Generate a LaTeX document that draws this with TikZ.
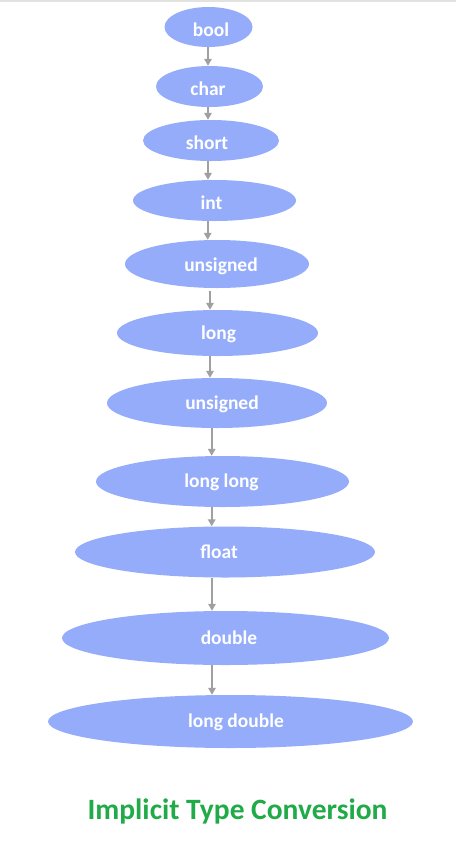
\documentclass[tikz,border=0pt]{standalone}
\usepackage{fontspec}
\setmainfont{Carlito}
\usetikzlibrary{shapes.geometric,arrows.meta}
\definecolor{ellfill}{RGB}{148,172,250}
\definecolor{arrgray}{RGB}{160,160,160}
\definecolor{titlegreen}{RGB}{32,170,72}
\definecolor{topline}{RGB}{226,226,226}
\newcommand\toff[2]{\hspace*{#1}#2}
\tikzset{
  typebox/.style n args={2}{ellipse, fill=ellfill, draw=none, inner sep=0pt,
    minimum width=#1pt, minimum height=#2pt,
    text=white, font=\fontsize{19.5}{22}\selectfont\bfseries,
    text height=18pt, text depth=0pt},
  lowtext/.style={text height=12pt},
  arr/.style={draw=arrgray, line width=1.6pt, -{Triangle[length=7pt,width=7.5pt]}},
}
\begin{document}
\begin{tikzpicture}[x=1pt,y=-1pt]
\useasboundingbox (0,0) rectangle (456,847);
\draw[topline, line width=1.5pt] (0,0.75) -- (456,0.75);
\node[typebox={88}{40}] (bool) at (208.5,27) {\toff{5pt}{bool}};
\node[typebox={107}{41}] (char) at (209.5,86.5) {\toff{-3pt}{char}};
\node[typebox={136}{41}] (short) at (211,140.5) {\toff{-8pt}{short}};
\node[typebox={163}{41}] (int) at (214.5,200.5) {\toff{-6pt}{int}};
\node[typebox={184}{48}, text height=14pt] (uns) at (217,264) {\toff{8pt}{unsigned}};
\node[typebox={201}{46}, lowtext] (long) at (217.5,333) {\toff{2pt}{long}};
\node[typebox={220}{50}, lowtext] (unsl) at (217,403) {\toff{10pt}{unsigned}};
\node[typebox={253}{51}, lowtext] (ll) at (222.5,481.5) {\toff{-2pt}{long long}};
\node[typebox={300}{51}, lowtext] (float) at (225,552) {\toff{-12pt}{float}};
\node[typebox={327}{54}, lowtext] (double) at (225.5,638) {\toff{7pt}{double}};
\node[typebox={365}{53}, lowtext] (ld) at (230.5,721.5) {\toff{11pt}{long double}};
\node[text=titlegreen, font=\fontsize{29.5}{34}\selectfont\bfseries, inner sep=0pt, anchor=base] (title) at (237.5,819) {Implicit Type Conversion};
\draw[arr] ([xshift=-0.5pt]bool.south) -- ([xshift=-0.5pt]bool.south |- char.north);
\draw[arr] ([xshift=-1.5pt]char.south) -- ([xshift=-1.5pt]char.south |- short.north);
\draw[arr] ([xshift=-3pt]short.south) -- ([xshift=-3pt]short.south |- int.north);
\draw[arr] ([xshift=-6.8pt]int.south) -- ([xshift=-6.8pt]int.south |- uns.north);
\draw[arr] ([xshift=-7pt,yshift=-3pt]uns.south) -- ([xshift=-7pt]uns.south |- long.north);
\draw[arr] ([xshift=-7.5pt]long.south) -- ([xshift=-7.5pt]long.south |- unsl.north);
\draw[arr] ([xshift=-5.3pt]unsl.south) -- ([xshift=-5.3pt]unsl.south |- ll.north);
\draw[arr] ([xshift=-10.8pt]ll.south) -- ([xshift=-10.8pt]ll.south |- float.north);
\draw[arr] ([xshift=-13pt]float.south) -- ([xshift=-13pt]float.south |- double.north);
\draw[arr] ([xshift=-13.5pt]double.south) -- ([xshift=-13.5pt]double.south |- ld.north);
\end{tikzpicture}
\end{document}
